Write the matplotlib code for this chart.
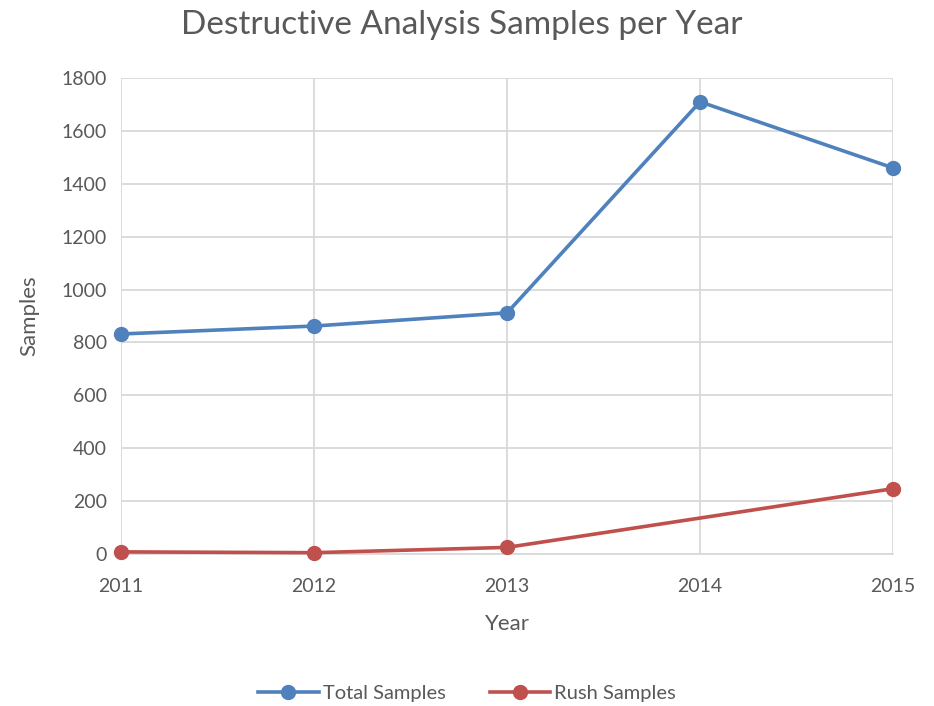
import matplotlib.pyplot as plt
import numpy as np

plt.rcParams['font.family'] = ['Lato', 'DejaVu Sans']

years = [2011, 2012, 2013, 2014, 2015]
total_samples = [832, 862, 912, 1710, 1460]
# no rush figure recorded for 2014
rush_years = [2011, 2012, 2013, 2015]
rush_samples = [8, 5, 25, 247]

grey = '#595959'
fig = plt.figure(figsize=(9.34, 7.06), dpi=100)
ax = fig.add_axes([0.1296, 0.2153, 0.8266, 0.6742])

ax.plot(years, total_samples, color='#4f81bd', lw=2.6, marker='o', ms=10,
        label='Total Samples', zorder=3, clip_on=False)
ax.plot(rush_years, rush_samples, color='#c0504d', lw=2.6, marker='o', ms=10,
        label='Rush Samples', zorder=3, clip_on=False)

ax.set_xlim(2011, 2015)
ax.set_ylim(0, 1800)
ax.set_xticks(years)
ax.set_yticks(np.arange(0, 1801, 200))
ax.grid(True, color='#d9d9d9', lw=1.3)
ax.set_axisbelow(True)
for s in ['top', 'right', 'left']:
    ax.spines[s].set_visible(False)
ax.spines['bottom'].set_color('#d9d9d9')
ax.spines['bottom'].set_linewidth(1.3)
ax.tick_params(length=0, labelsize=14, labelcolor=grey)
ax.tick_params(axis='x', pad=17)
ax.tick_params(axis='y', pad=10)

ax.set_xlabel('Year', fontsize=16, color=grey, labelpad=14)
ax.set_ylabel('Samples', fontsize=16, color=grey, labelpad=16)
fig.suptitle('Destructive Analysis Samples per Year', fontsize=24, color=grey,
             x=0.494, y=0.986)

ax.legend(loc='center', bbox_to_anchor=(0.5, 0.018), bbox_transform=fig.transFigure,
          ncol=2, frameon=False, fontsize=14.5, labelcolor=grey,
          handlelength=3, columnspacing=2.2, handletextpad=0.2,
          borderaxespad=0, borderpad=0)

fig.savefig('out.png', dpi=100)
